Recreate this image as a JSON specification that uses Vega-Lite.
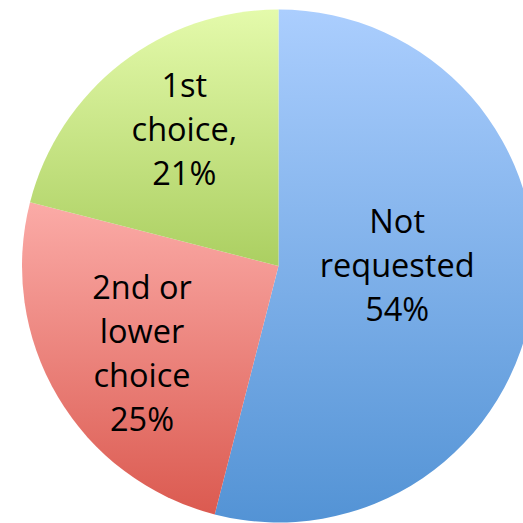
{
  "$schema": "https://vega.github.io/schema/vega-lite/v6.json",
  "width": 557,
  "height": 532,
  "padding": 0,
  "autosize": {"type": "none"},
  "background": "white",
  "data": {
    "values": [
      {"category": "Not requested", "share": 54, "order": 1, "label": ["Not", "requested", "54%"]},
      {"category": "2nd or lower choice", "share": 25, "order": 2, "label": ["2nd or", "lower", "choice", "25%"]},
      {"category": "1st choice", "share": 21, "order": 3, "label": ["1st", "choice,", "21%"]}
    ]
  },
  "encoding": {
    "theta": {"field": "share", "type": "quantitative", "stack": true},
    "order": {"field": "order", "type": "quantitative"}
  },
  "layer": [
    {
      "mark": {"type": "arc", "outerRadius": 256.5, "stroke": null},
      "encoding": {
        "color": {
          "condition": [
            {"test": "datum.category === 'Not requested'", "value": {"gradient": "linear", "x1": 0, "y1": 0, "x2": 0, "y2": 1, "stops": [{"offset": 0, "color": "#abcefe"}, {"offset": 1, "color": "#5393d5"}]}},
            {"test": "datum.category === '2nd or lower choice'", "value": {"gradient": "linear", "x1": 0, "y1": 0, "x2": 0, "y2": 1, "stops": [{"offset": 0, "color": "#fbaba7"}, {"offset": 1, "color": "#db5a50"}]}}
          ],
          "value": {"gradient": "linear", "x1": 0, "y1": 0, "x2": 0, "y2": 1, "stops": [{"offset": 0, "color": "#e4faab"}, {"offset": 1, "color": "#abcf61"}]}
        }
      }
    },
    {
      "mark": {"type": "text", "font": "Open Sans", "fontSize": 32.5, "lineHeight": 44, "color": "#000000", "align": "center", "baseline": "middle", "dy": -57.5},
      "encoding": {
        "radius": {"field": "share", "type": "quantitative", "scale": {"type": "linear", "zero": false, "domain": [21, 25, 54], "range": [153.7, 158.6, 119.6]}},
        "text": {"field": "label"}
      }
    }
  ],
  "config": {"view": {"stroke": null}}
}
